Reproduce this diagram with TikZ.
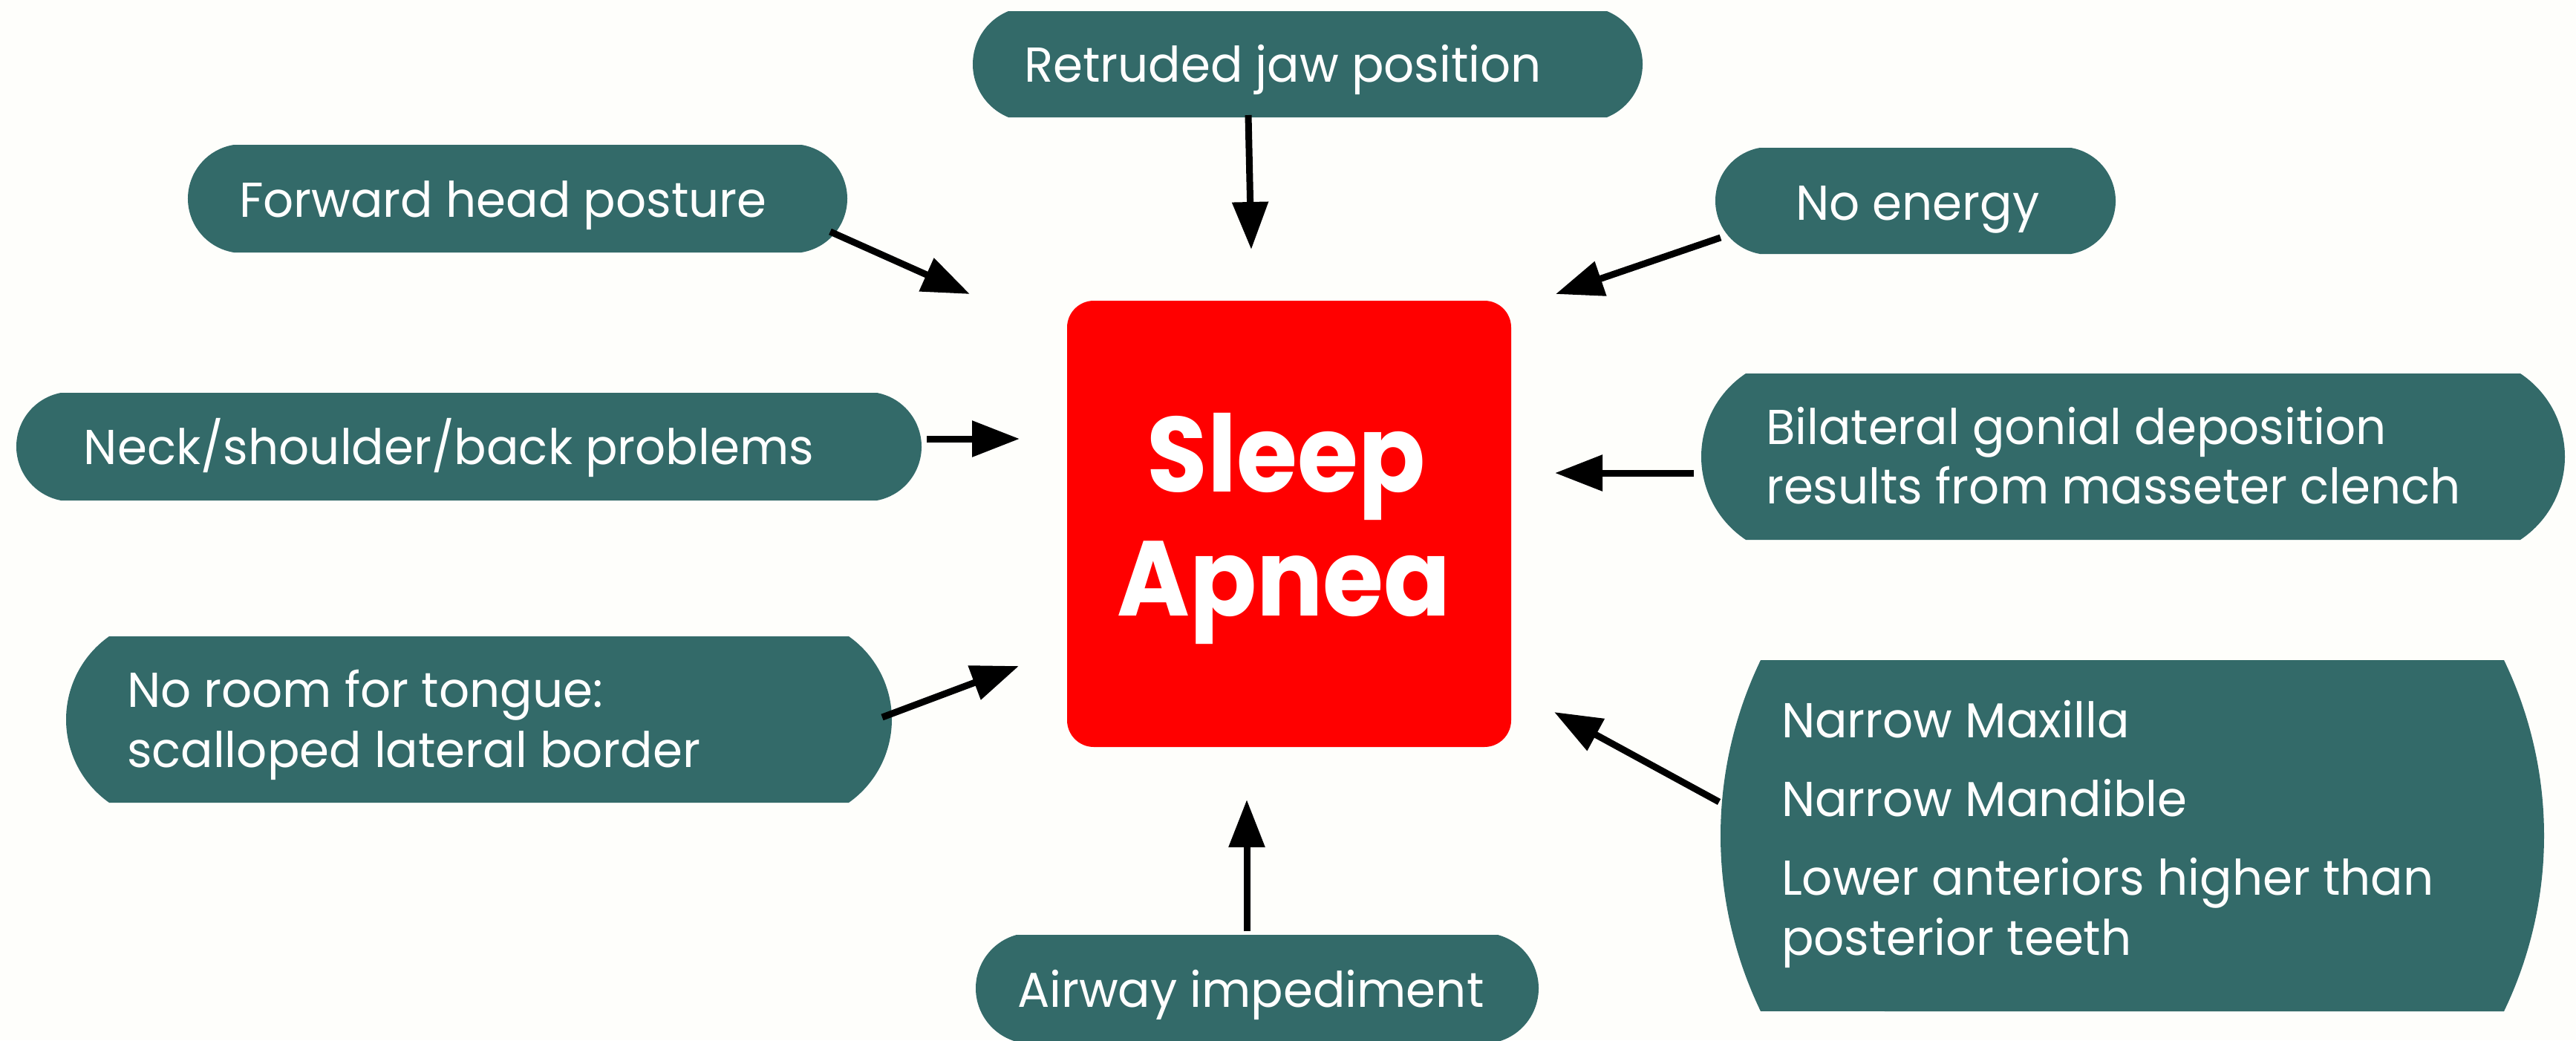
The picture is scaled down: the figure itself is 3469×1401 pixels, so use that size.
\documentclass[tikz,border=0pt]{standalone}
\usepackage{fontspec}
\setmainfont{Poppins}
\newfontfamily\bodyfont[FakeStretch=0.975]{Poppins}
\newfontfamily\bigfont[FakeStretch=0.925]{Poppins}
\usetikzlibrary{arrows.meta}
\definecolor{boxteal}{RGB}{51,106,105}
\definecolor{bgcol}{RGB}{254,254,251}
\definecolor{apneared}{RGB}{255,0,0}
\newcommand\pill[6]{%
  \pgfmathsetmacro\pilc{(#5-#3)/20}%
  \pgfmathsetmacro\pils{#6/10}%
  \pgfmathsetmacro\pilr{(\pilc*\pilc+\pils*\pils)/(2*\pils)}%
  \pgfmathsetmacro\pilt{asin(\pilc/\pilr)}%
  \pgfmathsetmacro\pilR{\pilr*2}%
  \fill[boxteal] (#2+#6,#3) arc[start angle=180-\pilt, end angle=180+\pilt, radius=\pilR pt]
     -- (#4-#6,#5) arc[start angle=-\pilt, end angle=\pilt, radius=\pilR pt] -- cycle;
  \coordinate (#1) at ({(#2+#4)/2},{(#3+#5)/2});
}
\tikzset{
  lbl/.style={text=white, anchor=base west, inner sep=0pt, font=\bodyfont\fontsize{13.2}{16}\selectfont},
  big/.style={text=white, anchor=base, inner sep=0pt, font=\bigfont\fontsize{28.7}{33}\selectfont\bfseries},
  arr/.style={line width=1.8pt, -{Triangle[length=12.8pt, width=9.4pt]}},
  centerbox/.style={fill=apneared, rounded corners=7.2pt, inner sep=0pt,
    minimum width=119.6pt, minimum height=120.2pt}
}
\begin{document}
\begin{tikzpicture}[x=0.2pt,y=-0.2pt]
\fill[bgcol] (0,0) rectangle (3469,1401);
\useasboundingbox (0,0) rectangle (3469,1401);

% central box
\node[centerbox] (sleep) at (1736,705.5) {};
\node[big] (sleep-t1) at (1732,662) {Sleep};
\node[big] (sleep-t2) at (1729,829) {Apnea};

% boxes
\pill{retr}{1310}{15}{2212}{158}{48}
\node[lbl] (retr-t) at (1378,110) {Retruded jaw position};

\pill{fwd}{253}{195}{1141}{340}{62}
\node[lbl] (fwd-t) at (321,292) {Forward head posture};

\pill{noen}{2310}{199}{2849}{342}{60}
\node[lbl] (noen-t) at (2417,296) {No energy};

\pill{neck}{22}{529}{1241}{674}{60}
\node[lbl] (neck-t) at (112,625) {Neck/shoulder/back problems};

\pill{room}{89}{857}{1201}{1081}{58}
\node[lbl] (room-t1) at (170,952) {No room for tongue:};
\node[lbl] (room-t2) at (170,1033) {scalloped lateral border};

\pill{bilat}{2291}{503}{3454}{727}{60}
\node[lbl] (bilat-t1) at (2377,598) {Bilateral gonial deposition};
\node[lbl] (bilat-t2) at (2377,678) {results from masseter clench};

\pill{narrow}{2317}{889}{3426}{1362}{54}
\node[lbl] (narrow-t1) at (2398,993) {Narrow Maxilla};
\node[lbl] (narrow-t2) at (2398,1099) {Narrow Mandible};
\node[lbl] (narrow-t3) at (2398,1205) {Lower anteriors higher than};
\node[lbl] (narrow-t4) at (2398,1286) {posterior teeth};

\pill{airway}{1314}{1259}{2072}{1403}{55}
\node[lbl] (airway-t) at (1369,1356) {Airway impediment};

% arrow end points
\coordinate (a1s) at (1681,155);  \coordinate (a1e) at (1685,336);
\coordinate (a2s) at (1118,312);  \coordinate (a2e) at (1306,396);
\coordinate (a3s) at (2317,320);  \coordinate (a3e) at (2095,396);
\coordinate (a4s) at (1248,591);  \coordinate (a4e) at (1373,591);
\coordinate (a5s) at (2281,637);  \coordinate (a5e) at (2094,637);
\coordinate (a6s) at (1188,966);  \coordinate (a6e) at (1372,897);
\coordinate (a7s) at (2315,1080); \coordinate (a7e) at (2093,959);
\coordinate (a8s) at (1679,1254); \coordinate (a8e) at (1679,1077);

\draw[arr] (a1s) -- (a1e);
\draw[arr] (a2s) -- (a2e);
\draw[arr] (a3s) -- (a3e);
\draw[arr] (a4s) -- (a4e);
\draw[arr] (a5s) -- (a5e);
\draw[arr] (a6s) -- (a6e);
\draw[arr] (a7s) -- (a7e);
\draw[arr] (a8s) -- (a8e);
\end{tikzpicture}
\end{document}
